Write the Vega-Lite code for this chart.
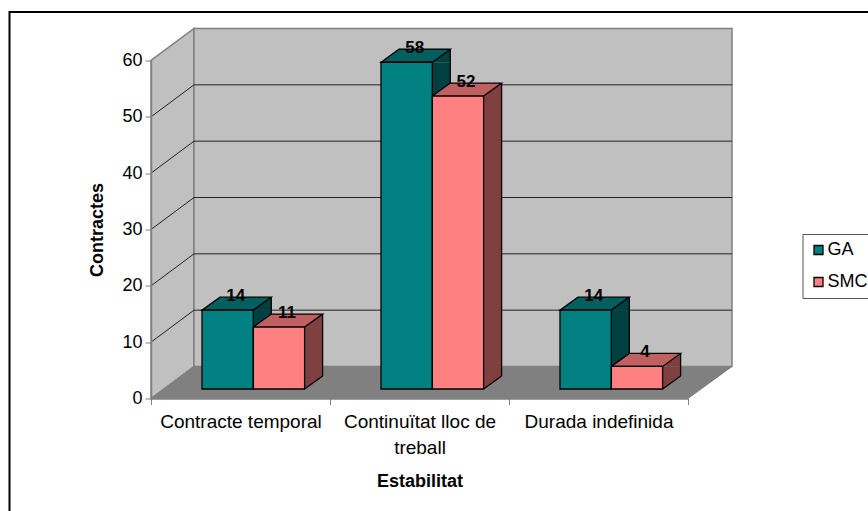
{
"$schema":"https://vega.github.io/schema/vega-lite/v6.json",
"width":537,"height":338,
"autosize":{"type":"none"},
"padding":{"left":151,"top":60.5,"right":180,"bottom":112.5},
"background":"white",
"config":{"view":{"stroke":null},"font":"Liberation Sans"},
"datasets":{
"bars":[
{"estabilitat":"Contracte temporal","serie":"GA","contractes":14},
{"estabilitat":"Contracte temporal","serie":"SMC","contractes":11},
{"estabilitat":"Continuïtat lloc de treball","serie":"GA","contractes":58},
{"estabilitat":"Continuïtat lloc de treball","serie":"SMC","contractes":52},
{"estabilitat":"Durada indefinida","serie":"GA","contractes":14},
{"estabilitat":"Durada indefinida","serie":"SMC","contractes":4}
],
"grid":[{"tick":10},{"tick":20},{"tick":30},{"tick":40},{"tick":50}],
"origin":[{"tick":0}]
},
"encoding":{
"x":{"field":"estabilitat","type":"nominal","sort":["Contracte temporal","Continuïtat lloc de treball","Durada indefinida"],
"scale":{"paddingInner":0,"paddingOuter":0},
"axis":{"title":"Estabilitat","titleFontSize":18,"titleFontWeight":"bold","titleColor":"black","titlePadding":15,"labelAngle":0,"labelFontSize":19,"labelColor":"black","labelPadding":8,"labelLineHeight":26,"labelBaseline":"top","labelExpr":"datum.label=='Continuïtat lloc de treball'?['Continuïtat lloc de','treball']:datum.label","tickBand":"extent","tickColor":"#808080","tickSize":6,"domainColor":"#808080","domainWidth":1.5,"zindex":1,"grid":false}},
"y":{"field":"contractes","type":"quantitative","scale":{"domain":[0,60],"nice":false},
"axis":{"title":"Contractes","titleFontSize":18,"titleFontWeight":"bold","titleColor":"black","titlePadding":15,"labelFontSize":18,"labelColor":"black","labelPadding":3,"values":[0,10,20,30,40,50,60],"tickColor":"#808080","tickSize":6,"domainColor":"#808080","domainWidth":1.5,"zindex":1,"grid":false}}
},
"layer":[
{"data":{"name":"origin"},
"mark":{"type":"point","filled":true,"size":4,"fill":"#C0C0C0","stroke":"#808080","strokeWidth":1.5,"opacity":1,
"shape":"M0,0 L43,-32 L43,-370 L0,-338 Z"},
"encoding":{"x":{"datum":"Contracte temporal","bandPosition":0},"y":{"field":"tick","type":"quantitative"}}},
{"data":{"name":"origin"},
"mark":{"type":"point","filled":true,"size":4,"fill":"#C0C0C0","stroke":"#808080","strokeWidth":1.5,"opacity":1,
"shape":"M43,-32 L581,-32 L581,-370 L43,-370 Z"},
"encoding":{"x":{"datum":"Contracte temporal","bandPosition":0},"y":{"field":"tick","type":"quantitative"}}},
{"data":{"name":"origin"},
"mark":{"type":"point","filled":true,"size":4,"fill":"#808080","stroke":"#808080","strokeWidth":1,"opacity":1,
"shape":"M0,0 L537,0 L581,-32 L43,-32 Z"},
"encoding":{"x":{"datum":"Contracte temporal","bandPosition":0},"y":{"field":"tick","type":"quantitative"}}},
{"data":{"name":"origin"},
"mark":{"type":"point","filled":false,"size":4,"fill":null,"stroke":"black","strokeWidth":2,"opacity":1,
"shape":"M-141.5,113 L-141.5,-386.5 L717,-386.5"},
"encoding":{"x":{"datum":"Contracte temporal","bandPosition":0},"y":{"field":"tick","type":"quantitative"}}},
{"data":{"name":"grid"},
"mark":{"type":"point","filled":false,"size":4,"fill":null,"stroke":"#222222","strokeWidth":1,"opacity":1,
"shape":"M0,0 L43,-32 L581,-32"},
"encoding":{"x":{"datum":"Contracte temporal","bandPosition":0},"y":{"field":"tick","type":"quantitative"}}},
{"data":{"name":"bars"},
"mark":{"type":"rule","strokeWidth":18,"yOffset":-9.5,"y2Offset":-22.5,"opacity":1},
"encoding":{"xOffset":{"field":"serie","type":"nominal","scale":{"range":[85.65,188.25]}},
"y2":{"datum":0},
"stroke":{"field":"serie","type":"nominal","legend":null,"scale":{"range":["#004040","#804040"]}}}},
{"data":{"name":"bars"},
"mark":{"type":"point","filled":true,"size":4,"opacity":1,"strokeWidth":0,"shape":"M25.65,-9.5 L43.65,-22.5 L25.65,-22.5 Z"},
"encoding":{"xOffset":{"field":"serie","type":"nominal","scale":{"range":[51,153.6]}},
"y":{"datum":0},
"fill":{"field":"serie","type":"nominal","legend":null,"scale":{"range":["#004040","#804040"]}}}},
{"data":{"name":"bars"},
"mark":{"type":"point","filled":true,"size":4,"opacity":1,"strokeWidth":0,"shape":"M25.65,-9.5 L43.65,-22.5 L43.65,-9.5 Z"},
"encoding":{"xOffset":{"field":"serie","type":"nominal","scale":{"range":[51,153.6]}},
"fill":{"field":"serie","type":"nominal","legend":null,"scale":{"range":["#004040","#804040"]}}}},
{"data":{"name":"bars"},
"mark":{"type":"point","filled":false,"fill":null,"size":4,"opacity":1,"stroke":"black","strokeWidth":1.3,"shape":"M25.65,-9.5 L43.65,-22.5"},
"encoding":{"xOffset":{"field":"serie","type":"nominal","scale":{"range":[51,153.6]}},
"y":{"datum":0}}},
{"data":{"name":"bars"},
"mark":{"type":"rule","strokeWidth":1.3,"color":"black","yOffset":-22.5,"y2Offset":-22.5},
"encoding":{"xOffset":{"field":"serie","type":"nominal","scale":{"range":[94.65,197.25]}},
"y2":{"datum":0}}},
{"data":{"name":"bars"},
"mark":{"type":"point","filled":true,"size":4,"opacity":1,"stroke":"black","strokeWidth":1.3,"shape":"M-25.65,-9.5 L25.65,-9.5 L43.65,-22.5 L-7.65,-22.5 Z"},
"encoding":{"xOffset":{"field":"serie","type":"nominal","scale":{"range":[51,153.6]}},
"fill":{"field":"serie","type":"nominal","legend":null,"scale":{"range":["#006060","#C06060"]}}}},
{"data":{"name":"bars"},
"mark":{"type":"bar","stroke":"black","strokeWidth":1.3,"yOffset":-9.5,"y2Offset":-9.5},
"encoding":{"xOffset":{"field":"serie","type":"nominal","scale":{"range":[51,153.6]}},
"y2":{"datum":0},
"fill":{"field":"serie","type":"nominal","scale":{"range":["#008080","#FF8080"]},
"legend":{"orient":"none","legendX":651.5,"legendY":173.5,"title":null,"symbolType":"square","symbolSize":81,"symbolStrokeColor":"black","symbolStrokeWidth":1.3,"labelFontSize":18,"labelColor":"black","rowPadding":14,"padding":7,"strokeColor":"#555555","labelOffset":0}}}},
{"data":{"name":"bars"},
"mark":{"type":"text","fontSize":17,"fontWeight":"bold","color":"black","dx":8,"dy":-24,"baseline":"middle"},
"encoding":{"xOffset":{"field":"serie","type":"nominal","scale":{"range":[51,153.6]}},
"text":{"field":"contractes","type":"quantitative"}}}
],
"resolve":{"scale":{"fill":"independent","stroke":"independent","xOffset":"independent"}}
}
